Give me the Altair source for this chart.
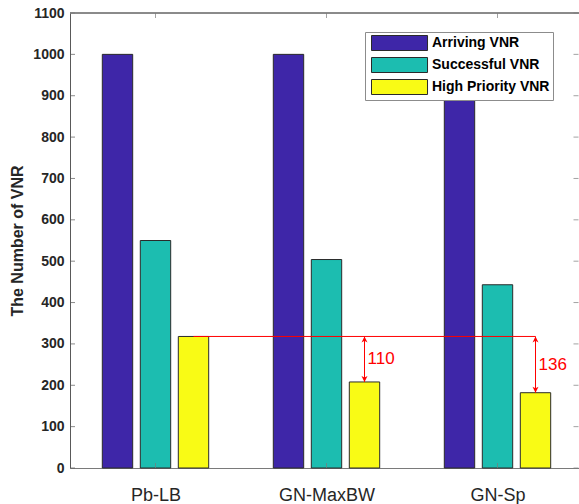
import altair as alt
import pandas as pd

# ---- data -------------------------------------------------------------
categories = ["Pb-LB", "GN-MaxBW", "GN-Sp"]
series = ["Arriving VNR", "Successful VNR", "High Priority VNR"]
arriving = [1000, 1000, 1000]
successful = [550, 504, 443]
high_priority = [318, 208, 182]
y_ticks = list(range(0, 1101, 100))

colors = ["#3E26A8", "#1CBDB0", "#F9FB15"]
FONT = "Liberation Sans"
AXIS_DARK = "#595959"
AXIS_LIGHT = "#7a7a7a"
EDGE = "#2a2a2a"
Y_TITLE = "The Number of VNR"

# grouped-bar geometry (in category units)
GROUP_STEP = 2 / 9          # distance between neighbouring bars in a group
BAR_HALF = 0.8 * GROUP_STEP / 2

W, H = 509, 455
x_scale = alt.Scale(domain=[0.5, 0.5 + W / 171], nice=False, zero=False)
y_scale = alt.Scale(domain=[0, 1100], nice=False)

values_by_series = [arriving, successful, high_priority]
rows = []
for gi, cat in enumerate(categories):
    for si, name in enumerate(series):
        center = gi + 1 + (si - 1) * GROUP_STEP
        rows.append(
            {
                "category": cat,
                "series": name,
                "value": values_by_series[si][gi],
                "x1": center - BAR_HALF,
                "x2": center + BAR_HALF,
            }
        )
bars_df = pd.DataFrame(rows)

label_expr = "[" + ",".join(f"'{c}'" for c in categories) + "][datum.value - 1]"

# wide legend swatch (56 x 15 px at symbolSize 225), shifted right of the anchor
legend_path = "M-0.6,-1H6.87V1H-0.6Z"

bars = (
    alt.Chart(bars_df)
    .mark_rect(stroke=EDGE, strokeWidth=1)
    .encode(
        x=alt.X(
            "x1:Q",
            scale=x_scale,
            title=None,
            axis=alt.Axis(
                values=[1, 2, 3],
                labelExpr=label_expr,
                grid=False,
                tickSize=0,
                labelPadding=32,
                labelBaseline="alphabetic",
                labelFlush=False,
                labelFont=FONT,
                labelFontSize=18,
                labelColor="#262626",
                domainColor=AXIS_LIGHT,
            ),
        ),
        x2="x2:Q",
        y=alt.Y(
            "value:Q",
            scale=y_scale,
            title=Y_TITLE,
            axis=alt.Axis(
                values=y_ticks,
                format="d",
                titleFont=FONT,
                titleFontSize=16,
                titleFontWeight="bold",
                titleColor="#262626",
                titleX=-48,
                titleY=H / 2,
                titleBaseline="alphabetic",
                titleAlign="center",
                titleAngle=270,
                grid=False,
                tickSize=0,
                labelPadding=6,
                labelFont=FONT,
                labelFontSize=14,
                labelFontWeight="bold",
                labelColor="#262626",
                domainColor=AXIS_DARK,
            ),
        ),
        y2=alt.datum(0),
        color=alt.Color(
            "series:N",
            sort=series,
            scale=alt.Scale(domain=series, range=colors),
            legend=alt.Legend(
                title=None,
                orient="none",
                legendX=295,
                legendY=19,
                symbolType=legend_path,
                symbolSize=225,
                symbolStrokeColor=EDGE,
                symbolStrokeWidth=1,
                symbolOpacity=1,
                # trailing no-break spaces leave a little room before the frame edge
                labelExpr="datum.label + '\u00a0\u00a0'",
                labelFont=FONT,
                labelFontSize=14,
                labelFontWeight="bold",
                labelColor="black",
                labelOffset=48,
                rowPadding=2,
                padding=3,
                strokeColor="#8c8c8c",
                fillColor="white",
            ),
        ),
    )
)


def xq(field):
    return alt.X(field, scale=x_scale, title=None)


def yq(field):
    return alt.Y(field, scale=y_scale, title=Y_TITLE)


# ---- inward tick marks and top border ---------------------------------
ticks_y_df = pd.DataFrame({"v": y_ticks})
ticks_x_df = pd.DataFrame({"c": [1, 2, 3]})

left_ticks = alt.Chart(ticks_y_df).mark_tick(
    orient="horizontal", size=5, thickness=1, color=AXIS_DARK
).encode(y=yq("v:Q"), x=alt.value(2.5))

right_ticks = alt.Chart(ticks_y_df).mark_tick(
    orient="horizontal", size=5, thickness=1, color=AXIS_LIGHT
).encode(y=yq("v:Q"), x=alt.value(W - 3))

bottom_ticks = alt.Chart(ticks_x_df).mark_tick(
    orient="vertical", size=5, thickness=1, color=AXIS_LIGHT
).encode(x=xq("c:Q"), y=alt.value(H - 2.5))

top_ticks = alt.Chart(ticks_x_df).mark_tick(
    orient="vertical", size=5, thickness=1, color=AXIS_LIGHT
).encode(x=xq("c:Q"), y=alt.value(2.5))

top_border = alt.Chart(ticks_x_df).mark_rule(color=AXIS_LIGHT, strokeWidth=1).encode(
    x=alt.value(0), x2=alt.value(W), y=alt.value(0)
)

# ---- gap annotation against the Pb-LB high-priority level --------------
ref_value = high_priority[0]


def hp_center(gi):
    return gi + 1 + GROUP_STEP


ref_df = pd.DataFrame(
    {"xa": [hp_center(0)], "xb": [hp_center(len(categories) - 1)], "y": [ref_value]}
)
gap_df = pd.DataFrame(
    {
        "xc": [hp_center(i) for i in range(1, len(categories))],
        "top": [ref_value] * (len(categories) - 1),
        "bottom": high_priority[1:],
        "gap": [ref_value - v for v in high_priority[1:]],
        "mid": [(ref_value + v) / 2 for v in high_priority[1:]],
    }
)

ref_line = alt.Chart(ref_df).mark_rule(color="red", strokeWidth=1).encode(
    x=xq("xa:Q"), x2="xb:Q", y=yq("y:Q")
)

shafts = alt.Chart(gap_df).mark_rule(color="red", strokeWidth=1).encode(
    x=xq("xc:Q"), y=yq("top:Q"), y2="bottom:Q"
)

head_up = alt.Chart(gap_df).mark_point(
    shape="M0,-1L1,1L0,0.45L-1,1Z", filled=True, size=36, color="red",
    opacity=1, yOffset=3,
).encode(x=xq("xc:Q"), y=yq("top:Q"))

head_down = alt.Chart(gap_df).mark_point(
    shape="M0,1L1,-1L0,-0.45L-1,-1Z", filled=True, size=36, color="red",
    opacity=1, yOffset=-3,
).encode(x=xq("xc:Q"), y=yq("bottom:Q"))

gap_labels = alt.Chart(gap_df).mark_text(
    align="left", baseline="middle", dx=3, font=FONT, fontSize=17, color="red"
).encode(x=xq("xc:Q"), y=yq("mid:Q"), text="gap:N")

chart = (
    alt.layer(
        bars,
        left_ticks,
        right_ticks,
        bottom_ticks,
        top_ticks,
        top_border,
        ref_line,
        shafts,
        head_up,
        head_down,
        gap_labels,
    )
    .properties(
        width=W,
        height=H,
        padding={"left": 70, "top": 13, "right": 0, "bottom": 36},
        autosize=alt.AutoSizeParams(type="none"),
        background="white",
    )
    .configure_view(stroke=None)
)

chart.save("out.html", embed_options={"renderer": "svg", "actions": False})
